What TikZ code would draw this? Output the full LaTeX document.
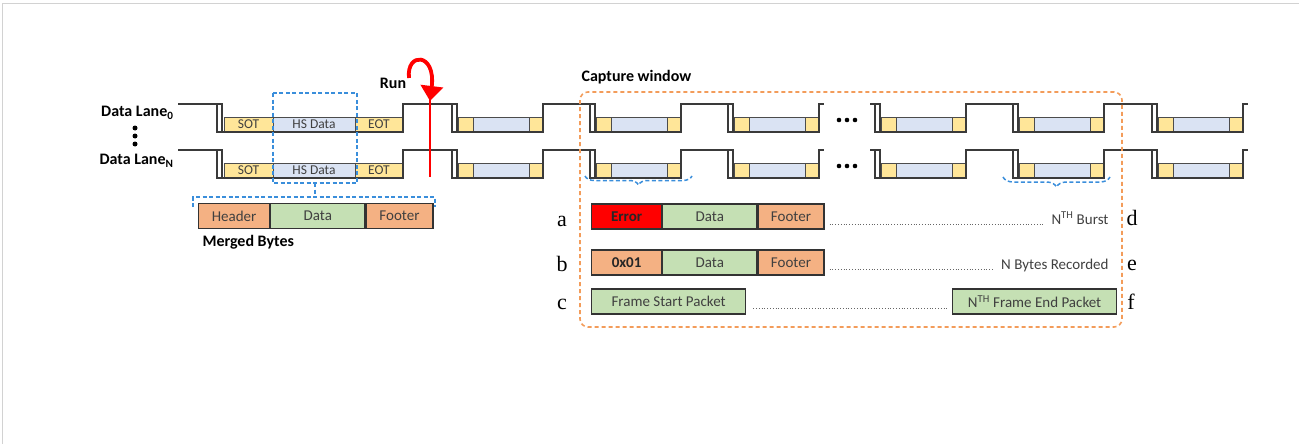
\documentclass[tikz,border=0pt]{standalone}
\usepackage{fontspec}
\setmainfont{Carlito}
\newfontfamily\letterfont{Liberation Serif}
\usepackage{tikz}
\usetikzlibrary{decorations.pathreplacing,arrows.meta}

\definecolor{sotyellow}{HTML}{FFE699}
\definecolor{hsblue}{HTML}{DAE3F3}
\definecolor{byteorange}{HTML}{F4B183}
\definecolor{bytegreen}{HTML}{C5E0B4}
\definecolor{errred}{HTML}{FF0000}
\definecolor{dashblue}{HTML}{3A8EDB}
\definecolor{dashorange}{HTML}{F39C5A}
\definecolor{wavegray}{HTML}{3A3A3A}
\definecolor{textgray}{HTML}{404040}

\begin{document}
\begin{tikzpicture}
            [x=1pt,y=-1pt,
             wave/.style={draw=wavegray,line width=1.7pt},
             lanebox/.style={draw=black!70,line width=0.7pt,inner sep=0pt,minimum height=15pt,text=textgray,font=\fontsize{13.5}{13.5}\selectfont},
             bytebox/.style={draw=black!80,line width=1.2pt,inner sep=0pt,minimum height=25pt,anchor=west,text=textgray,font=\fontsize{15}{15}\selectfont},
             lbl/.style={font=\fontsize{16}{16}\selectfont\bfseries},
             rowlbl/.style={anchor=base,font=\letterfont\fontsize{22}{22}\selectfont},
             note/.style={anchor=base east,text=textgray,font=\fontsize{15}{15}\selectfont},
             leader/.style={dotted,draw=black!60,line width=0.8pt},
             bluedash/.style={draw=dashblue,dash pattern=on 4pt off 2.5pt,line width=1.5pt},
             runred/.style={draw=red,fill=red}]
            \useasboundingbox (0,0) rectangle (1299,444);
            \draw[gray!35,line width=1pt] (2,444) -- (2,4) -- (1299,4);

            % lane names
            \node[lbl,anchor=east] (lane0) at (177,113) {Data Lane\textsubscript{0}};
            \node[lbl,anchor=east] (laneN) at (177,161) {Data Lane\textsubscript{N}};
            \foreach \j in {128,136,144}
                \fill (135,\j) circle (2.5);

            % short packets
            \foreach \y in {104,150}{
                \foreach \d in {452,590,728,875,1013,1152}{
                    \filldraw[fill=sotyellow,draw=black!70,line width=0.7pt] (\d+6,\y+13) rectangle (\d+21,\y+28);
                    \filldraw[fill=hsblue,draw=black!70,line width=0.7pt] (\d+21,\y+13) rectangle (\d+77,\y+28);
                    \filldraw[fill=sotyellow,draw=black!70,line width=0.7pt] (\d+77,\y+13) rectangle (\d+91,\y+28);
                }
                \foreach \k in {839,847,855}
                    \fill (\k,\y+16) circle (2.3);
            }

            % first packet with names
            \node[lanebox,fill=sotyellow,minimum width=49pt] (sot0) at (248.5,124.5) {SOT};
            \node[lanebox,fill=hsblue,minimum width=82pt] (hs0) at (314,124.5) {HS Data};
            \node[lanebox,fill=sotyellow,minimum width=48pt] (eot0) at (379,124.5) {EOT};
            \node[lanebox,fill=sotyellow,minimum width=49pt] (sotN) at (248.5,170.5) {SOT};
            \node[lanebox,fill=hsblue,minimum width=82pt] (hsN) at (314,170.5) {HS Data};
            \node[lanebox,fill=sotyellow,minimum width=48pt] (eotN) at (379,170.5) {EOT};

            % lane levels
            \foreach \y in {104,150}{
                \draw[wave] (178,\y) -- (222,\y);
                \draw[wave] (870,\y) -- (880,\y);
                \foreach \d/\r/\e in {217/403/457,452/543/595,590/681/733,728/819/824,875/966/1018,1013/1104/1157,1152/1243/1248}
                    \draw[wave] (\d,\y) rectangle (\d+5,\y+28) (\d+5,\y+28) -- (\r,\y+28) -- (\r,\y) -- (\e,\y);
            }

            % merged bytes
            \draw[bluedash] (273,93) rectangle (357,183);
            \draw[bluedash] (315,183) -- (315,197);
            \draw[bluedash] (193,207) -- (193,197) -- (435,197) -- (435,207);
            \node[bytebox,fill=byteorange,minimum width=71pt] (mhead) at (198,216) {Header};
            \node[bytebox,fill=bytegreen,minimum width=94pt] (mdata) at (mhead.east) {Data};
            \node[bytebox,fill=byteorange,minimum width=67pt] (mfoot) at (mdata.east) {Footer};
            \node[lbl,anchor=west] (merged) at (199,242) {Merged Bytes};

            % run marker
            \node[lbl] (run) at (393,83) {Run};
            \draw[runred,line width=1.6pt] (430,95) -- (430,177);
            \draw[draw=red,line width=3.8pt,-{Triangle[width=22pt,length=15pt]}] (409,78) .. controls (406,52) and (436,52) .. (430,101);

            % capture window
            \node[lbl,anchor=west] (capt) at (578,77) {Capture window};
            \draw[draw=dashorange,dash pattern=on 4pt off 3pt,line width=1.6pt,rounded corners=8pt] (580,92) rectangle (1122,327);
            \draw[bluedash,decorate,decoration={brace,mirror,amplitude=9pt}] (585,176) -- (692,176);
            \draw[bluedash,decorate,decoration={brace,mirror,amplitude=10pt}] (1003,177) -- (1110,177);

            % row a
            \node[rowlbl] (la) at (562,226) {a};
            \node[bytebox,fill=errred,minimum width=70pt,text=black!85,font=\fontsize{15}{15}\selectfont\bfseries] (errA) at (591,216.5) {Error};
            \node[bytebox,fill=bytegreen,minimum width=94pt] (dataA) at (errA.east) {Data};
            \node[bytebox,fill=byteorange,minimum width=66pt] (footA) at (dataA.east) {Footer};
            \node[note] (nburst) at (1112,224) {N\textsuperscript{TH} Burst};
            \draw[leader,shorten <=5pt,shorten >=3pt] (footA.east |- nburst.base) -- (nburst.base west);
            \node[rowlbl] (ld) at (1132,225) {d};

            % row b
            \node[rowlbl] (lb) at (562,271) {b};
            \node[bytebox,fill=byteorange,minimum width=70pt,text=black!85,font=\fontsize{15}{15}\selectfont\bfseries] (hexB) at (591,262.5) {0x01};
            \node[bytebox,fill=bytegreen,minimum width=94pt] (dataB) at (hexB.east) {Data};
            \node[bytebox,fill=byteorange,minimum width=66pt] (footB) at (dataB.east) {Footer};
            \node[note] (nbytes) at (1112,269) {N Bytes Recorded};
            \draw[leader,shorten <=5pt,shorten >=3pt] (footB.east |- nbytes.base) -- (nbytes.base west);
            \node[rowlbl] (le) at (1132,270) {e};

            % row c
            \node[rowlbl] (lc) at (562,309) {c};
            \node[bytebox,fill=bytegreen,minimum width=154pt] (fstart) at (591,301.5) {Frame Start Packet};
            \node[bytebox,fill=bytegreen,minimum width=164pt] (fend) at (952,301.5) {N\textsuperscript{TH} Frame End Packet};
            \draw[leader,shorten <=7pt,shorten >=4pt] ([yshift=-7pt]fstart.east) -- ([yshift=-7pt]fend.west);
            \node[rowlbl] (lf) at (1131,309) {f};
        \end{tikzpicture}
\end{document}
